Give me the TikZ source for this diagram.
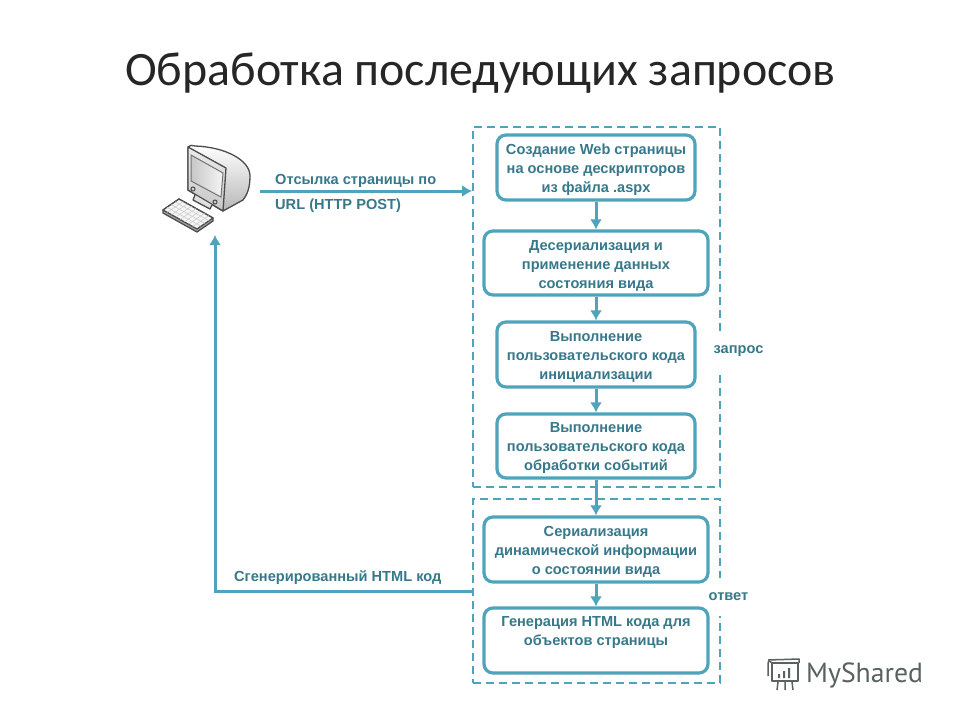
\documentclass[tikz,border=0pt]{standalone}
\usepackage{fontspec}
\setmainfont{Liberation Sans}
\newfontfamily\titlefont{Carlito}
\newfontfamily\logofont{PT Sans}
\usetikzlibrary{arrows.meta,calc}
\definecolor{linecol}{HTML}{4FA3BB}
\definecolor{textcol}{HTML}{37788A}
\definecolor{logocol}{HTML}{59625F}
\newcommand\tp{\rule{0pt}{15pt}}
\tikzset{
  stepbox/.style={draw=linecol,line width=3.2pt,rounded corners=9pt,fill=white,align=center,
    text=textcol,font=\fontsize{14.6}{19}\selectfont\bfseries,inner sep=0pt},
  zone/.style={draw=linecol,line width=1.9pt,dash pattern=on 8pt off 5pt},
  flow/.style={draw=linecol,line width=3pt,-{Latex[length=10pt,width=12pt]}},
  lab/.style={text=textcol,font=\fontsize{14.6}{16}\selectfont\bfseries,inner sep=1pt},
  sidelab/.style={lab,fill=white,inner sep=1pt},
  pcline/.style={draw=black!70,line width=1.3pt,line join=round},
  logoline/.style={draw=logocol,line width=1.5pt,line join=round}
}
\begin{document}
\begin{tikzpicture}[x=1pt,y=-1pt]
\useasboundingbox (0,0) rectangle (960,720);
\fill[white] (0,0) rectangle (960,720);
\node[font=\fontsize{47.9}{54}\selectfont\titlefont,text=black!85] (title) at (480.5,73) {Обработка последующих запросов};
% zones
\node[zone,minimum width=247pt,minimum height=360pt,inner sep=0pt] (req) at (596.5,307) {};
\node[zone,minimum width=247pt,minimum height=184pt,inner sep=0pt] (resp) at (596.5,591) {};
\node[sidelab,minimum height=38pt] (reqlab) at (738.5,351) {запрос};
\node[sidelab,minimum height=38pt] (resplab) at (728.5,597) {\raisebox{1pt}{ответ}};
% boxes
\node[stepbox,minimum width=198pt,minimum height=65pt] (b1) at (596,167.5) {\tp Создание Web страницы\\на основе дескрипторов\\из файла .aspx};
\node[stepbox,minimum width=224pt,minimum height=64pt] (b2) at (596,263) {\tp Десериализация и\\применение данных\\состояния вида};
\node[stepbox,minimum width=198pt,minimum height=65pt] (b3) at (596,354.5) {\tp Выполнение\\пользовательского кода\\инициализации};
\node[stepbox,minimum width=198pt,minimum height=64pt] (b4) at (596,446) {\tp Выполнение\\пользовательского кода\\обработки событий};
\node[stepbox,minimum width=224pt,minimum height=65pt] (b5) at (596,549.5) {\tp Сериализация\\динамической информации\\о состоянии вида};
\node[stepbox,minimum width=224pt,minimum height=65pt] (b6) at (596,640.5) {Генерация HTML кода для\\объектов страницы\\\mbox{}};
\draw[flow] (b1) -- (b2);
\draw[flow] (b2) -- (b3);
\draw[flow] (b3) -- (b4);
\draw[flow] (b4) -- (b5);
\draw[flow] (b5) -- (b6);
% computer
\coordinate (pcout) at (260,191);
\coordinate (pcin) at (215,235);
\draw[pcline,top color=white,bottom color=black!28] (188,147) .. controls (190,145) and (192,145) .. (195,146) .. controls (225,147) and (250,160) .. (250,176) .. controls (250,188) and (247,195) .. (243,200) -- (223,211) -- (188,190) -- cycle;
\draw[pcline,top color=black!8,bottom color=black!22] (188,147) -- (226,168) -- (223,211) -- (188,190) -- cycle;
\draw[draw=black!55,line width=1pt,left color=black!22,right color=blue!6!black!4] (191,155) -- (223,173) -- (221,197) -- (191,181) -- cycle;
\draw[draw=black!70,line width=1pt] (193,189) circle (2pt) (215,202) circle (2pt);
\filldraw[pcline,fill=black!12] (195,195) -- (193,200) -- (210,209) -- (212,205);
\filldraw[pcline,fill=black!35] (163,210) -- (179,199) -- (213,218) -- (213,221) -- (197,232) -- (163,213) -- cycle;
\filldraw[pcline,fill=black!4] (163,210) -- (179,199) -- (213,218) -- (197,229) -- cycle;
\foreach \t in {.25,.5,.75}{
  \draw[black!22,line width=.5pt] ($(163,210)!\t!(179,199)$) -- ($(197,229)!\t!(213,218)$);
}
\foreach \t in {.125,.25,.375,.5,.625,.75,.875}{
  \draw[black!22,line width=.5pt] ($(163,210)!\t!(197,229)$) -- ($(179,199)!\t!(213,218)$);
}
% connectors
\coordinate (reqin) at (req.west |- pcout);
\draw[flow] (pcout) -- (reqin);
\coordinate (respout) at (resp.west |- 0,591);
\draw[flow] (respout) -- (pcin |- respout) -- (pcin);
\node[lab,anchor=west] (l1) at (274,181) {Отсылка страницы по};
\node[lab,anchor=west] (l2) at (274,206) {URL (HTTP POST)};
\node[lab,anchor=west] (l3) at (233,578) {Сгенерированный HTML код};
% logo
\draw[logoline] (772,663) -- (798,663) -- (798,681) -- (772,681) -- cycle;
\draw[logoline] (772,663) .. controls (768,659) and (768,661) .. (768,668) -- (768,676);
\draw[logoline] (768,660) -- (799,659) -- (799,663);
\fill[logocol] (778,674) rectangle (780,678) (783,671) rectangle (785,678) (788,668) rectangle (790,678);
\draw[logoline] (778,682) -- (777,690) (785,682) -- (785,690) (792,682) -- (793,690);
\node[font=\fontsize{27.7}{30}\selectfont\logofont,text=logocol,anchor=west,inner sep=0pt] (logo) at (806,675) {MyShared};
\end{tikzpicture}
\end{document}
